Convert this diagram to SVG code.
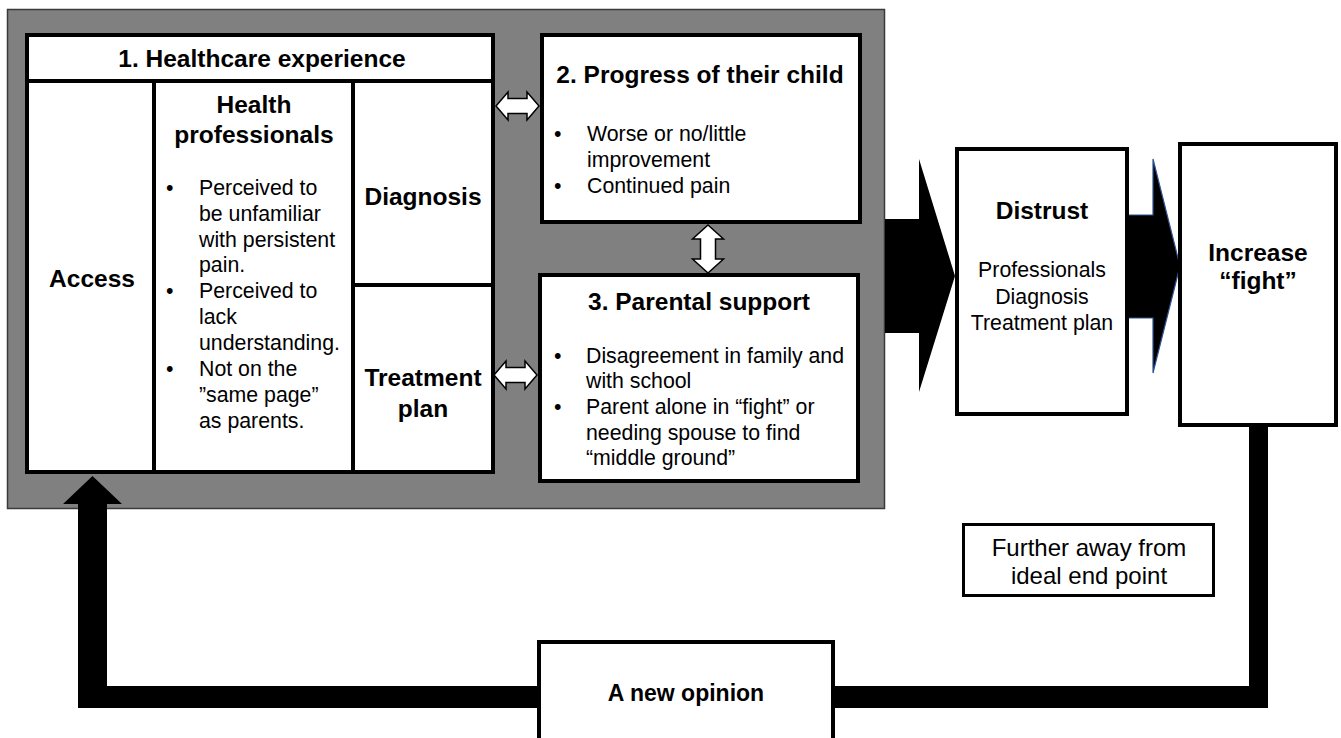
<svg xmlns="http://www.w3.org/2000/svg" width="1341" height="738" viewBox="0 0 1341 738">
<style>
text{font-family:"Liberation Sans",Arial,sans-serif;fill:#000}
.h{font-weight:bold;font-size:24.5px;text-anchor:middle}
.b{font-size:21.3px}
.c{font-size:21.3px;text-anchor:middle}
.box{fill:#fff;stroke:#000;stroke-width:4}
.dbl{fill:#fff;stroke:#000;stroke-width:1.5;stroke-linejoin:miter}
</style>
<rect x="0" y="0" width="1341" height="738" fill="#fff"/>
<rect id="panel" x="7.5" y="9.5" width="877" height="499" fill="#808080" stroke="#3a3a3a" stroke-width="1.5"/>
<g id="connectors">
<path d="M1249 427 L1268 427 L1268 708 L78 708 L78 504 L63 504 L92.5 476 L122 504 L107 504 L107 686 L1249 686 Z" fill="#000"/>
<path d="M885 219 L919 219 L919 159 L955 276 L919 392 L919 333 L885 333 Z" fill="#000"/>
<path d="M1128 215 L1153 215 L1153 159 L1180 266 L1153 373 L1153 318 L1128 318 Z" fill="#000" stroke="#2f528f" stroke-width="1.2"/>
<path class="dbl" d="M496 106 L508 92 L508 98.5 L527 98.5 L527 92 L539 106 L527 120 L527 113.5 L508 113.5 L508 120 Z"/>
<path class="dbl" d="M494 375 L506 361 L506 367.5 L525 367.5 L525 361 L537 375 L525 389 L525 382.5 L506 382.5 L506 389 Z"/>
<path class="dbl" d="M708 225 L723.5 239 L715.5 239 L715.5 259 L723.5 259 L708 273 L692.5 259 L700.5 259 L700.5 239 L692.5 239 Z"/>
</g>
<g id="healthcare">
<rect class="box" x="27" y="35" width="466" height="437"/>
<line x1="27" y1="81" x2="493" y2="81" stroke="#000" stroke-width="4"/>
<text class="h" x="262" y="67">1. Healthcare experience</text>
</g>
<g id="access">
<line x1="154" y1="81" x2="154" y2="472" stroke="#000" stroke-width="4"/>
<text class="h" x="92" y="287">Access</text>
</g>
<g id="health-professionals">
<line x1="353" y1="81" x2="353" y2="472" stroke="#000" stroke-width="4"/>
<text class="h" x="254" y="113">Health</text>
<text class="h" x="254" y="143">professionals</text>
<g class="b">
<text x="166" y="195">•</text><text x="199" y="195">Perceived to</text>
<text x="199" y="221">be unfamiliar</text>
<text x="199" y="247">with persistent</text>
<text x="199" y="272">pain.</text>
<text x="166" y="298">•</text><text x="199" y="298">Perceived to</text>
<text x="199" y="324">lack</text>
<text x="199" y="350">understanding.</text>
<text x="166" y="376">•</text><text x="199" y="376">Not on the</text>
<text x="199" y="402">”same page”</text>
<text x="199" y="428">as parents.</text>
</g>
</g>
<g id="diagnosis">
<line x1="353" y1="285" x2="493" y2="285" stroke="#000" stroke-width="4"/>
<text class="h" x="423" y="205">Diagnosis</text>
</g>
<g id="treatment-plan">
<text class="h" x="423" y="386">Treatment</text>
<text class="h" x="423" y="417">plan</text>
</g>
<g id="progress">
<rect class="box" x="542" y="35" width="318" height="187"/>
<text class="h" x="700" y="83">2. Progress of their child</text>
<g class="b">
<text x="554" y="141">•</text><text x="587" y="141">Worse or no/little</text>
<text x="587" y="167">improvement</text>
<text x="554" y="193">•</text><text x="587" y="193">Continued pain</text>
</g>
</g>
<g id="parental">
<rect class="box" x="540" y="275" width="318" height="206"/>
<text class="h" x="699" y="310">3. Parental support</text>
<g class="b">
<text x="554" y="363">•</text><text x="586" y="363">Disagreement in family and</text>
<text x="586" y="388">with school</text>
<text x="554" y="414">•</text><text x="586" y="414">Parent alone in “fight” or</text>
<text x="586" y="440">needing spouse to find</text>
<text x="586" y="465">“middle ground”</text>
</g>
</g>
<g id="distrust">
<rect class="box" x="957" y="149" width="170" height="265"/>
<text class="h" x="1042" y="219">Distrust</text>
<text class="c" x="1042" y="277">Professionals</text>
<text class="c" x="1042" y="304">Diagnosis</text>
<text class="c" x="1042" y="330">Treatment plan</text>
</g>
<g id="increase">
<rect class="box" x="1180" y="144" width="156" height="281"/>
<text class="h" x="1258" y="261">Increase</text>
<text class="h" x="1258" y="289">“fight”</text>
</g>
<g id="further">
<rect x="963.5" y="524.5" width="250" height="71" fill="#fff" stroke="#000" stroke-width="3"/>
<text class="c" x="1089" y="556" style="font-size:24px">Further away from</text>
<text class="c" x="1089" y="584" style="font-size:24px">ideal end point</text>
</g>
<g id="new-opinion">
<rect class="box" x="539" y="642" width="294" height="110"/>
<text class="h" x="686" y="701" style="font-size:23px">A new opinion</text>
</g>
</svg>
